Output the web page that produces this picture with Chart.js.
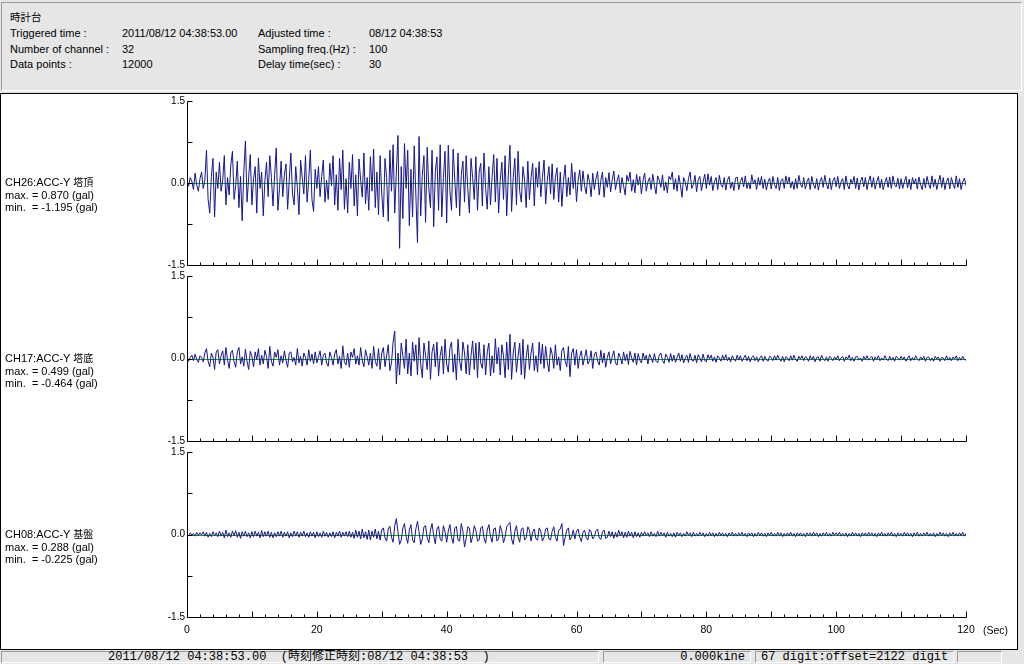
<!DOCTYPE html>
<html>
<head>
<meta charset="utf-8">
<script src="https://cdn.jsdelivr.net/npm/chart.js@4.4.1/dist/chart.umd.min.js"></script>
<style>
  body { margin: 0; width: 1024px; height: 664px; position: relative; overflow: hidden;
         background: #e6e6e6; color: #000; font-family: "Liberation Sans", Arial, "Noto Sans CJK JP", sans-serif; font-size: 11px; }
  .abs { position: absolute; white-space: pre; line-height: 14px; }
  .cjk { font-family: "Noto Sans CJK JP", sans-serif; font-size: 10px; }
  #head { left: 1px; top: 2px; width: 1019px; height: 87px; border-top: 1px solid #9a9a9a; border-left: 1px solid #9a9a9a;
          border-right: 1px solid #fff; border-bottom: 1px solid #fff; }
  #frame { left: 0; top: 93px; width: 1016px; height: 555px; background: #fff; border: 1px solid #000; }
  canvas { position: absolute; left: 0; }
  .lbl { line-height: 12.5px; left: 5px; }
  .bar { top: 651px; height: 12px; border-top: 1px solid #9a9a9a; border-left: 1px solid #9a9a9a;
         border-right: 1px solid #fff; border-bottom: 1px solid #fff; box-sizing: border-box;
         font-family: "Liberation Mono", "Noto Sans CJK JP", monospace; font-size: 12px; line-height: 11px; }
</style>
</head>
<body>
<div id="head" class="abs"></div>
<div class="abs cjk" style="left:10px;top:10px;font-size:10.5px;">時計台</div>
<div class="abs" style="left:10px;top:26px;">Triggered time :</div>
<div class="abs" style="left:122px;top:26px;">2011/08/12 04:38:53.00</div>
<div class="abs" style="left:258px;top:26px;">Adjusted time :</div>
<div class="abs" style="left:369px;top:26px;">08/12 04:38:53</div>
<div class="abs" style="left:10px;top:42px;">Number of channel :</div>
<div class="abs" style="left:122px;top:42px;">32</div>
<div class="abs" style="left:258px;top:42px;">Sampling freq.(Hz) :</div>
<div class="abs" style="left:369px;top:42px;">100</div>
<div class="abs" style="left:10px;top:57px;">Data points :</div>
<div class="abs" style="left:122px;top:57px;">12000</div>
<div class="abs" style="left:258px;top:57px;">Delay time(sec) :</div>
<div class="abs" style="left:369px;top:57px;">30</div>

<div id="frame" class="abs"></div>
<canvas id="p0" width="1017" height="180" style="top:93px"></canvas>
<canvas id="p1" width="1017" height="181" style="top:268px"></canvas>
<canvas id="p2" width="1017" height="195" style="top:444px"></canvas>
<div id="labels"></div>
<div class="abs" style="left:983px;top:623px;font-size:10.5px;">(Sec)</div>

<div class="abs bar" style="left:1px;width:598px;padding-left:106px;">2011/08/12 04:38:53.00  (時刻修正時刻:08/12 04:38:53  )</div>
<div class="abs bar" style="left:603px;width:148px;text-align:right;padding-right:5px;">0.000kine</div>
<div class="abs bar" style="left:755px;width:199px;padding-left:5px;">67 digit:offset=2122 digit</div>
<div class="abs bar" style="left:957px;width:45px;"></div>

<script>
// one stored sample every 0.25 s, 0..120 s
const STEP = 0.25;

const ch26 = [
  0.02,-0.06,0.1,0.03,-0.12,0.18,-0.04,-0.15,0.08,0.2,-0.1,0.05,0.6,-0.3,-0.55,0.12,0.45,-0.62,0.2,-0.1,
  0.38,-0.15,0.05,0.5,-0.4,0.1,-0.22,0.33,0.58,-0.3,-0.05,0.4,-0.45,0.12,-0.69,0.2,0.77,-0.35,0.1,0.52,
  -0.4,0.08,0.3,-0.55,0.46,-0.1,0.2,-0.6,0.05,0.38,-0.25,0.5,0.1,-0.42,0.15,0.64,-0.5,-0.1,0.4,-0.25,
  0.15,0.35,-0.48,0.05,0.55,-0.2,-0.4,0.3,-0.08,-0.58,0.42,0.1,-0.2,0.5,-0.35,0.06,0.6,-0.3,-0.52,0.25,
  -0.1,0.3,-0.25,0.12,0.42,-0.35,0.05,-0.3,0.36,-0.05,0.5,-0.4,0.15,-0.5,0.45,-0.12,0.6,-0.48,0.08,-0.55,
  0.38,-0.1,0.52,-0.42,0.15,-0.6,0.44,0.05,-0.26,0.55,-0.38,0.1,-0.5,0.48,-0.15,0.62,-0.45,0.2,-0.58,0.5,
  -0.2,-0.62,0.45,0.1,-0.7,0.6,-0.15,0.7,-0.55,0.2,0.87,-1.195,0.3,-0.65,0.72,-0.1,0.6,-0.78,0.25,-0.62,
  0.68,-0.2,-1.09,0.85,-0.6,0.15,0.5,-0.72,0.65,-0.1,-0.45,0.6,-0.8,0.2,0.48,-0.5,0.7,-0.62,0.1,0.58,
  -0.73,0.69,-0.15,-0.5,0.62,0.05,-0.45,0.55,-0.6,0.15,0.4,-0.35,0.5,-0.1,-0.55,0.45,0.1,-0.3,0.48,-0.5,
  0.2,0.36,-0.42,0.55,-0.1,-0.48,0.3,-0.4,0.12,0.52,-0.35,0.45,-0.55,0.05,0.38,-0.3,0.5,-0.6,0.15,0.69,
  -0.52,0.1,0.45,-0.4,0.58,-0.15,-0.35,0.3,0.05,-0.45,0.4,-0.3,0.1,0.36,-0.42,0.28,-0.08,0.39,-0.25,0.1,
  0.42,-0.38,0.05,0.3,-0.2,0.35,-0.3,0.1,0.28,-0.35,0.2,-0.43,0.05,0.33,-0.25,0.1,-0.22,0.36,-0.1,0.2,
  -0.34,0.05,0.24,-0.15,0.22,-0.05,-0.2,0.16,0.03,-0.25,0.18,-0.12,0.08,0.21,-0.22,0.05,0.2,-0.26,0.1,-0.08,
  0.19,-0.16,0.05,0.22,-0.12,0.04,0.15,-0.18,0.1,-0.05,-0.22,0.14,0.03,0.2,-0.15,0.06,-0.18,0.16,-0.04,0.12,
  -0.2,0.05,0.18,-0.15,0.02,0.1,-0.12,0.16,-0.04,-0.2,0.13,0.05,-0.08,0.15,-0.14,0.02,-0.18,0.12,0.06,0.2,
  -0.12,0.08,-0.15,0.14,-0.03,-0.26,0.1,0.02,-0.14,0.08,0.2,-0.1,-0.03,0.14,-0.16,0.06,0.12,-0.14,0.02,0.16,
  -0.1,0.17,-0.04,0.12,-0.14,0.02,0.1,-0.12,0.14,-0.03,-0.08,0.1,-0.13,0.05,0.12,-0.1,0.02,-0.14,0.09,0.11,
  -0.12,0.03,0.1,-0.07,0.13,-0.1,0.01,-0.11,0.15,-0.02,0.06,-0.12,0.1,-0.04,0.12,-0.1,0.07,-0.13,0.02,0.09,
  -0.11,0.12,-0.03,-0.1,0.1,-0.14,0.04,0.08,-0.1,0.13,-0.02,0.11,-0.09,0.03,-0.12,0.08,-0.1,0.14,-0.02,-0.08,
  0.1,-0.11,0.02,0.09,-0.12,0.12,-0.03,-0.1,0.08,-0.13,0.03,0.1,-0.08,0.14,-0.02,-0.11,0.09,-0.12,0.04,0.1,
  -0.07,0.12,-0.1,0.02,0.08,-0.12,0.13,-0.04,-0.11,0.07,-0.02,0.12,-0.1,0.09,-0.13,0.03,0.11,-0.07,0.1,-0.12,
  0.03,0.13,-0.08,0.1,-0.11,0.02,0.12,-0.09,0.07,-0.12,0.01,0.1,-0.08,0.11,-0.1,0.13,-0.03,-0.07,0.09,-0.11,
  0.08,-0.1,0.02,0.12,-0.09,0.07,-0.12,0.1,-0.02,0.08,-0.11,0.11,-0.03,-0.12,0.08,-0.09,0.12,-0.02,-0.1,0.13,
  -0.07,0.07,-0.12,0.02,0.14,-0.08,0.1,-0.12,0.03,0.09,-0.11,0.1,-0.02,-0.1,0.13,-0.08,0.08,-0.12,0.02,0.09,
  -0.05
];

const ch17 = [
  0.03,-0.05,0.02,0.06,-0.04,0.08,-0.02,-0.07,0.05,0.02,-0.06,0.1,0.18,-0.05,-0.15,0.1,0.02,-0.2,0.12,0.16,
  -0.1,0.05,0.14,-0.12,0.2,-0.03,-0.18,0.1,0.15,-0.06,-0.16,0.12,0.2,-0.1,0.03,-0.14,0.17,-0.05,-0.2,0.13,
  0.04,-0.15,0.12,-0.02,0.18,-0.12,0.06,-0.1,0.15,0.03,-0.18,0.22,-0.05,-0.14,0.12,0.02,0.16,-0.12,0.05,-0.08,
  0.14,-0.03,-0.16,0.1,0.12,-0.06,0.02,-0.12,0.18,-0.08,0.04,-0.14,0.1,0.02,-0.12,0.16,-0.05,0.08,-0.1,0.12,
  -0.08,0.03,0.14,-0.12,0.06,0.1,-0.08,-0.14,0.12,0.02,-0.12,0.08,0.16,-0.1,0.04,-0.18,0.23,-0.06,-0.12,0.1,
  -0.16,0.12,0.02,0.18,-0.1,0.05,-0.12,0.2,-0.04,-0.15,0.16,0.03,-0.12,0.1,-0.18,0.22,-0.05,-0.14,0.18,-0.2,
  0.1,0.2,-0.15,0.05,0.25,-0.22,-0.08,0.3,0.499,-0.464,0.1,-0.3,0.28,0.05,-0.18,0.35,-0.28,0.1,-0.32,0.3,
  -0.05,0.25,-0.3,0.38,-0.1,-0.35,0.28,0.05,-0.2,0.32,-0.38,0.12,0.26,-0.15,0.3,-0.32,0.05,0.22,-0.28,0.35,
  -0.1,-0.25,0.2,0.3,-0.25,0.08,-0.39,0.35,-0.05,-0.22,0.3,0.1,-0.28,0.25,-0.3,0.05,0.32,-0.2,0.28,-0.35,
  0.3,-0.08,-0.18,0.25,-0.3,0.12,0.28,-0.32,0.05,-0.26,0.36,-0.1,0.2,-0.3,0.25,0.05,-0.35,0.3,-0.2,0.44,
  -0.38,0.1,0.3,-0.25,0.05,0.28,-0.3,0.35,-0.37,0.02,0.25,-0.2,0.1,0.28,-0.22,0.05,-0.25,0.3,-0.1,0.26,
  -0.18,0.22,-0.05,-0.24,0.2,0.08,-0.18,0.25,-0.12,0.03,-0.22,0.15,0.2,-0.05,-0.15,0.22,-0.33,0.1,0.18,-0.12,
  0.16,-0.18,0.04,0.14,-0.12,0.02,0.16,-0.1,-0.04,0.14,-0.18,0.08,0.12,-0.05,-0.12,0.15,-0.08,0.1,-0.16,0.02,
  0.12,-0.1,0.03,0.14,-0.08,-0.12,0.1,0.02,-0.1,0.12,-0.04,0.08,-0.11,0.13,0.01,-0.07,0.1,-0.12,0.09,-0.03,
  -0.08,0.1,-0.02,0.06,-0.1,0.08,0.01,-0.07,0.09,-0.05,-0.08,0.06,0.1,-0.04,-0.09,0.08,0.02,-0.07,0.09,-0.05,
  0.06,-0.07,0.02,0.1,-0.05,0.07,-0.08,0.01,0.06,-0.07,0.09,-0.03,-0.05,0.06,-0.08,0.07,0.01,-0.06,0.08,-0.04,
  -0.06,0.07,-0.01,0.06,-0.05,0.03,-0.07,0.05,0.01,-0.05,0.06,-0.03,0.07,-0.04,0.02,-0.06,0.05,-0.01,-0.05,0.06,
  -0.03,0.05,-0.05,0.01,0.06,-0.04,0.04,-0.06,0.02,0.05,-0.04,0.03,-0.06,0.01,0.05,-0.05,0.04,-0.02,-0.05,0.04,
  0.02,-0.04,0.05,-0.03,0.06,-0.01,-0.05,0.04,-0.06,0.03,0.01,-0.04,0.05,-0.03,0.06,-0.02,-0.05,0.04,-0.01,0.05,
  -0.04,0.03,0.01,-0.05,0.05,-0.02,0.04,-0.06,0.02,0.03,-0.05,0.06,-0.01,-0.04,0.03,-0.05,0.04,0.01,-0.04,0.03,
  -0.02,0.05,-0.04,0.01,0.04,-0.05,0.03,-0.01,0.06,-0.04,0.02,-0.05,0.03,0.04,-0.03,0.01,-0.05,0.04,-0.02,0.05,
  -0.03,0.01,0.04,-0.05,0.03,-0.02,0.05,-0.04,0.01,-0.03,0.05,-0.01,-0.04,0.04,-0.03,0.02,-0.05,0.04,0.01,-0.03,
  0.04,-0.02,0.03,-0.05,0.01,0.05,-0.04,0.02,-0.03,0.05,-0.01,-0.04,0.03,-0.02,0.04,-0.05,0.02,0.03,-0.04,0.01,
  -0.05,0.04,-0.01,0.03,-0.05,0.02,0.01,-0.04,0.05,-0.03,0.02,-0.04,0.03,-0.01,0.05,-0.04,0.02,-0.03,0.04,-0.02,
  -0.03
];

const ch08 = [
  0.01,-0.02,0.03,-0.01,0.02,-0.03,0.04,-0.02,0.03,-0.01,0.05,-0.03,0.04,-0.05,0.02,-0.04,0.05,-0.02,0.03,-0.04,
  0.06,-0.03,0.04,-0.06,0.08,-0.04,0.03,-0.05,0.06,-0.02,0.07,-0.05,0.04,-0.07,0.05,-0.03,0.06,-0.04,0.03,-0.06,
  0.05,-0.04,0.06,-0.03,0.04,-0.06,0.07,-0.04,0.05,-0.03,0.06,-0.05,0.04,-0.06,0.03,-0.04,0.05,-0.03,0.06,-0.05,
  0.04,-0.03,0.05,-0.06,0.03,-0.04,0.06,-0.03,0.05,-0.05,0.04,-0.03,0.06,-0.04,0.03,-0.05,0.05,-0.03,0.04,-0.06,
  0.05,-0.04,0.03,-0.05,0.06,-0.03,0.04,-0.05,0.03,-0.04,0.05,-0.06,0.04,-0.03,0.06,-0.05,0.04,-0.03,0.05,-0.04,
  0.06,-0.05,0.04,-0.07,0.08,-0.05,0.06,-0.08,0.1,-0.06,0.05,-0.09,0.08,-0.1,0.06,-0.05,0.1,-0.08,0.06,-0.1,
  0.08,0.12,-0.06,-0.12,0.1,0.15,-0.05,-0.14,0.16,0.288,0.05,-0.18,-0.1,0.12,0.2,-0.04,-0.16,0.08,0.18,-0.1,
  -0.15,0.1,0.24,0.05,-0.18,-0.08,0.14,0.16,-0.06,-0.15,0.08,0.2,-0.02,-0.17,0.1,0.15,-0.08,-0.12,0.16,0.05,
  -0.14,0.06,0.18,-0.05,-0.16,0.12,0.15,-0.1,-0.12,0.2,0.06,-0.225,-0.08,0.14,0.12,-0.15,-0.04,0.16,0.08,-0.12,
  -0.1,0.12,0.15,-0.06,-0.16,0.08,0.18,-0.04,-0.14,0.1,0.12,-0.12,-0.08,0.16,0.06,-0.15,-0.05,0.14,0.18,0.22,
  -0.08,-0.18,0.06,0.16,-0.05,-0.14,0.1,0.12,-0.1,-0.06,0.14,0.08,-0.12,0.05,0.1,-0.08,-0.1,0.12,0.06,-0.12,
  -0.05,0.1,0.12,-0.08,-0.1,0.06,0.14,-0.05,-0.12,0.08,0.1,0.2,-0.2,-0.06,0.08,0.12,-0.1,-0.04,0.08,-0.08,
  0.06,0.1,-0.05,-0.13,0.04,0.08,-0.06,-0.1,0.09,0.05,-0.08,-0.04,0.07,0.1,-0.06,-0.09,0.05,0.08,-0.07,-0.05,
  0.06,-0.04,0.05,-0.07,0.04,-0.05,0.08,-0.03,0.05,-0.06,0.04,-0.05,0.06,-0.03,0.04,-0.06,0.05,-0.04,0.03,-0.05,
  0.04,-0.03,0.05,-0.02,0.03,-0.04,0.05,-0.03,0.02,-0.04,0.06,-0.03,0.04,-0.02,0.03,-0.05,0.04,-0.03,0.02,-0.04,
  0.03,-0.05,0.04,-0.02,0.03,-0.04,0.02,-0.03,0.05,-0.02,0.03,-0.04,0.04,-0.03,0.02,-0.03,0.04,-0.02,0.03,-0.04,
  0.02,-0.03,0.04,-0.02,0.03,-0.04,0.02,-0.03,0.04,-0.02,0.03,-0.03,0.02,-0.04,0.03,-0.02,0.04,-0.03,0.02,-0.03,
  0.03,-0.02,0.04,-0.03,0.02,-0.04,0.03,-0.02,0.03,-0.04,0.02,-0.03,0.04,-0.02,0.03,-0.03,0.02,-0.04,0.03,-0.02,
  0.04,-0.03,0.02,-0.03,0.04,-0.02,0.03,-0.04,0.02,-0.03,0.03,-0.02,0.04,-0.03,0.02,-0.04,0.03,-0.02,0.03,-0.03,
  0.02,-0.04,0.03,-0.02,0.03,-0.03,0.04,-0.02,0.03,-0.04,0.02,-0.03,0.03,-0.02,0.04,-0.03,0.02,-0.03,0.04,-0.02,
  0.03,-0.02,0.04,-0.03,0.02,-0.03,0.03,-0.04,0.02,-0.03,0.04,-0.02,0.03,-0.03,0.02,-0.04,0.03,-0.02,0.03,-0.03,
  0.04,-0.02,0.03,-0.03,0.02,-0.04,0.03,-0.02,0.04,-0.03,0.02,-0.03,0.03,-0.02,0.04,-0.03,0.02,-0.04,0.03,-0.02,
  0.02,-0.03,0.04,-0.02,0.03,-0.03,0.02,-0.04,0.03,-0.02,0.04,-0.03,0.02,-0.03,0.03,-0.02,0.04,-0.03,0.02,-0.03,
  0.03,-0.04,0.02,-0.03,0.04,-0.02,0.03,-0.03,0.02,-0.04,0.03,-0.02,0.04,-0.03,0.02,-0.03,0.03,-0.02,0.04,-0.03,
  0.02
];

const channelNames = ['CH26:ACC-Y ', 'CH17:ACC-Y ', 'CH08:ACC-Y '];
const channelPlaces = ['塔頂', '塔底', '基盤'];
const maxValues = ['0.870', '0.499', '0.288'];
const minValues = ['-1.195', '-0.464', '-0.225'];
const yTickValues = [-1.5, -0.75, 0, 0.75, 1.5];
const yTickLabels = ['-1.5', '', '0.0', '', '1.5'];
const xTickValues = [0, 20, 40, 60, 80, 100, 120];
const X_MAX = 120, X_MINOR = 2, X_MAJOR = 10;

const labelTops = [176, 352, 528];
const labelBox = document.getElementById('labels');
channelNames.forEach((name, i) => {
  const d = document.createElement('div');
  d.className = 'abs lbl';
  d.style.top = labelTops[i] + 'px';
  d.innerHTML = name + '<span class="cjk">' + channelPlaces[i] + '</span>\n' +
    'max. = ' + maxValues[i] + ' (gal)\n' +
    'min.  = ' + minValues[i] + ' (gal)';
  labelBox.appendChild(d);
});

// L-shaped axis, inward tick marks and the green zero line
const seisAxes = {
  id: 'seisAxes',
  beforeDatasetsDraw(chart) {
    const { ctx, scales: { x, y } } = chart;
    const yz = Math.round(y.getPixelForValue(0)) + 0.5;
    ctx.save();
    ctx.strokeStyle = '#1a9a1a';
    ctx.lineWidth = 1;
    ctx.beginPath();
    ctx.moveTo(x.getPixelForValue(0), yz);
    ctx.lineTo(x.getPixelForValue(X_MAX), yz);
    ctx.stroke();
    ctx.restore();
  },
  afterDraw(chart) {
    const { ctx, scales: { x, y } } = chart;
    const left = Math.round(x.getPixelForValue(0)) + 0.5;
    const right = Math.round(x.getPixelForValue(X_MAX)) + 0.5;
    const top = Math.round(y.getPixelForValue(1.5)) + 0.5;
    const bottom = Math.round(y.getPixelForValue(-1.5)) + 0.5;
    ctx.save();
    ctx.strokeStyle = '#000';
    ctx.lineWidth = 1;
    ctx.beginPath();
    ctx.moveTo(left, top);
    ctx.lineTo(left, bottom);
    ctx.lineTo(right, bottom);
    yTickValues.forEach(v => {
      const py = Math.round(y.getPixelForValue(v)) + 0.5;
      ctx.moveTo(left, py);
      ctx.lineTo(left + 5, py);
    });
    for (let t = 0; t <= X_MAX; t += X_MINOR) {
      const px = Math.round(x.getPixelForValue(t)) + 0.5;
      ctx.moveTo(px, bottom);
      ctx.lineTo(px, bottom - (t % X_MAJOR === 0 ? 6 : 3));
    }
    ctx.stroke();
    ctx.restore();
  }
};

function makePanel(id, values, showX) {
  new Chart(document.getElementById(id), {
    type: 'line',
    data: {
      datasets: [{
        data: values.map((v, i) => ({ x: i * STEP, y: v })),
        borderColor: '#16168c',
        borderWidth: 1,
        pointRadius: 0,
        tension: 0
      }]
    },
    options: {
      responsive: false,
      animation: false,
      devicePixelRatio: 1,
      layout: { padding: { top: 8, right: 51, bottom: showX ? 0 : 8, left: 0 } },
      plugins: { legend: { display: false }, tooltip: { enabled: false } },
      scales: {
        x: {
          type: 'linear', min: 0, max: X_MAX,
          grid: { display: false, drawTicks: false },
          border: { display: false },
          afterBuildTicks: s => { s.ticks = xTickValues.map(v => ({ value: v })); },
          ticks: { display: showX, autoSkip: false, maxRotation: 0, padding: 7, color: '#000',
                   font: { family: 'Liberation Sans', size: 10.5 } },
          afterFit: s => { s.height = showX ? 22 : 0; }
        },
        y: {
          min: -1.5, max: 1.5,
          grid: { display: false, drawTicks: false },
          border: { display: false },
          afterBuildTicks: s => { s.ticks = yTickValues.map(v => ({ value: v })); },
          ticks: { autoSkip: false, padding: 2, color: '#000', callback: (v, i) => yTickLabels[i],
                   font: { family: 'Liberation Sans', size: 10 } },
          afterFit: s => { s.width = 187; }
        }
      }
    },
    plugins: [seisAxes]
  });
}

makePanel('p0', ch26, false);
makePanel('p1', ch17, false);
makePanel('p2', ch08, true);
</script>
</body>
</html>
